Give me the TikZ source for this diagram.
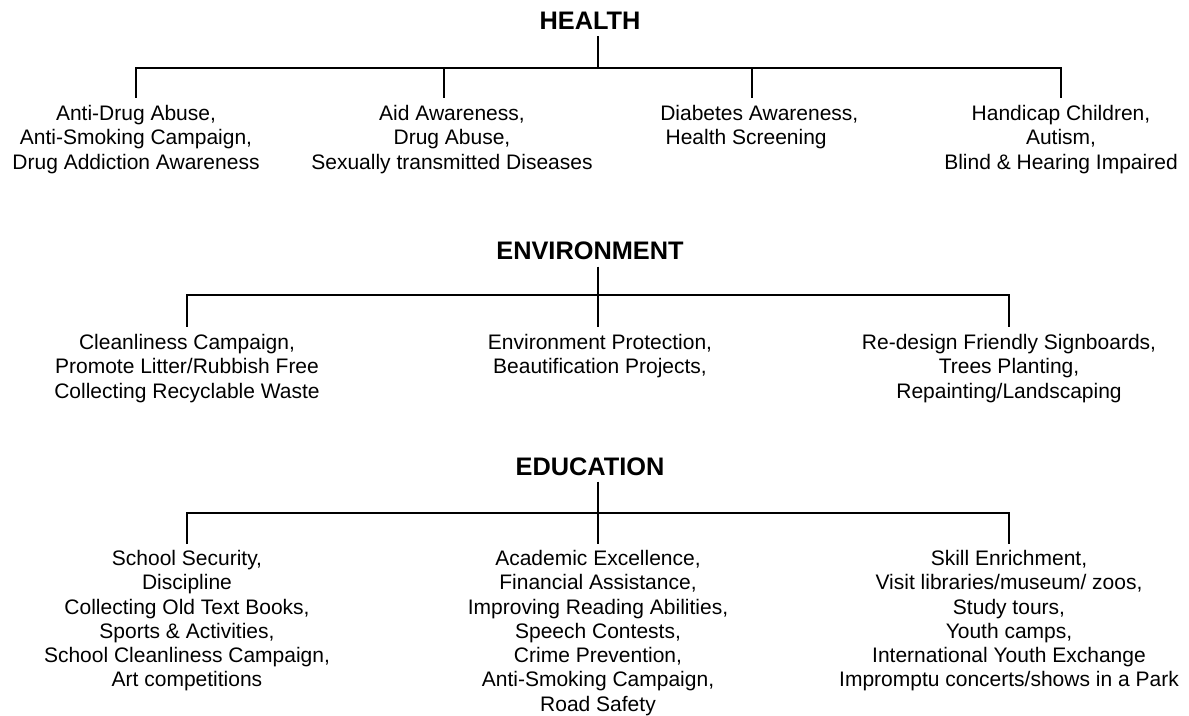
\documentclass[tikz,border=0pt]{standalone}
\usepackage{fontspec}
\setmainfont{Liberation Sans}
\usetikzlibrary{positioning,calc}

\begin{document}
\begin{tikzpicture}[x=0.75pt, y=-0.75pt,
  head/.style={font=\fontsize{19}{22}\selectfont\bfseries, anchor=base, inner sep=4.5pt},
  item/.style={font=\fontsize{15.75}{18.2}\selectfont, anchor=north, inner sep=0pt, align=center},
  tree/.style={draw=black, line width=1.3pt}]
%PICTURE SCOPE
\useasboundingbox (0, 0) rectangle (1189, 716);
%%HEALTH
\node (health) [head] at (590, 30) {HEALTH};
\coordinate (hbar) at (598, 68);
\coordinate (hd1) at (136, 98);
\coordinate (hd2) at (444, 98);
\coordinate (hd3) at (752, 98);
\coordinate (hd4) at (1061, 98);
\node (h1) [item] at (136, 105) {Anti-Drug Abuse,\\Anti-Smoking Campaign,\\Drug Addiction Awareness};
\node (h2) [item] at (452, 105) {Aid Awareness,\\Drug Abuse,\\Sexually transmitted Diseases};
\node (h3) [item, anchor=north west, align=left] at (660, 105) {Diabetes Awareness,\\\hspace*{4pt}Health Screening};
\node (h4) [item] at (1061, 105) {Handicap Children,\\Autism,\\Blind \& Hearing Impaired};
%%ENVIRONMENT
\node (env) [head] at (590, 260) {ENVIRONMENT};
\coordinate (ebar) at (598, 295);
\coordinate (ed1) at (187, 327);
\coordinate (ed2) at (598, 327);
\coordinate (ed3) at (1009, 327);
\node (e1) [item] at (187, 334) {Cleanliness Campaign,\\Promote Litter/Rubbish Free\\Collecting Recyclable Waste};
\node (e2) [item] at (600, 334) {Environment Protection,\\Beautification Projects,};
\node (e3) [item] at (1009, 334) {Re-design Friendly Signboards,\\Trees Planting,\\Repainting/Landscaping};
%%EDUCATION
\node (edu) [head] at (590, 475) {EDUCATION};
\coordinate (dbar) at (598, 513);
\coordinate (dd1) at (187, 544);
\coordinate (dd2) at (598, 544);
\coordinate (dd3) at (1009, 544);
\node (d1) [item] at (187, 550) {School Security,\\Discipline\\Collecting Old Text Books,\\Sports \& Activities,\\School Cleanliness Campaign,\\Art competitions};
\node (d2) [item] at (598, 550) {Academic Excellence,\\Financial Assistance,\\Improving Reading Abilities,\\Speech Contests,\\Crime Prevention,\\Anti-Smoking Campaign,\\Road Safety};
\node (d3) [item] at (1009, 550) {Skill Enrichment,\\Visit libraries/museum/ zoos,\\Study tours,\\Youth camps,\\International Youth Exchange\\Impromptu concerts/shows in a Park};
%%CONNECTIONS
\draw [tree] (hbar |- health.south) -- (hbar);
\draw [tree] (hd1) -- (hd1 |- hbar) -- (hd4 |- hbar) -- (hd4);
\draw [tree] (hd2 |- hbar) -- (hd2);
\draw [tree] (hd3 |- hbar) -- (hd3);
%
\draw [tree] (ebar |- env.south) -- (ed2);
\draw [tree] (ed1) -- (ed1 |- ebar) -- (ed3 |- ebar) -- (ed3);
%
\draw [tree] (dbar |- edu.south) -- (dd2);
\draw [tree] (dd1) -- (dd1 |- dbar) -- (dd3 |- dbar) -- (dd3);
\end{tikzpicture}
\end{document}
